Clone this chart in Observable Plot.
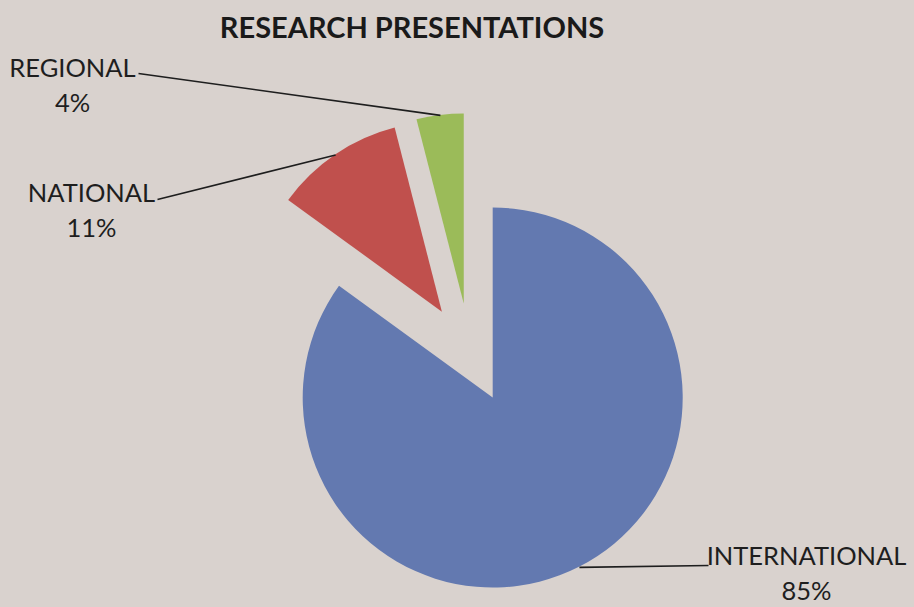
<!DOCTYPE html>
<html>
<head>
<meta charset="utf-8">
<script src="https://cdn.jsdelivr.net/npm/d3@7"></script>
<script src="https://cdn.jsdelivr.net/npm/@observablehq/plot@0.6"></script>
<style>
  html, body { margin: 0; padding: 0; background: #d9d2ce; }
  #chart { width: 914px; height: 607px; position: relative; overflow: hidden; background: #d9d2ce; }
  #title { height: 46px; font: 700 29px Lato, "Open Sans", sans-serif; line-height: 54px; text-align: center;
           padding-right: 90px; color: #1a1a1a; white-space: nowrap; overflow: visible; }
  #chart svg { display: block; }
</style>
</head>
<body>
<div id="chart"><div id="title">RESEARCH PRESENTATIONS</div></div>
<script>
// ---- data ----
const categories = ["INTERNATIONAL", "NATIONAL", "REGIONAL"];
const shares = [85, 11, 4];
const percentLabels = ["85%", "11%", "4%"];
const sliceColors = ["#6379b0", "#c0504d", "#9bbb59"];

// ---- layout (page pixels) ----
const W = 914, H = 607, TITLE_H = 46;
const CX = 470, CY = 353, R = 190, EXPLODE = 50;
const labelX = [806, 91, 72];
const labelY = [571, 208, 83];
const leaderX = [708, 157, 138];
const leaderY = [565, 199, 73];

const arcs = d3.pie().sort(null).startAngle(0).endAngle(2 * Math.PI)(shares);
const slices = arcs.map((a, i) => {
  const mid = (a.startAngle + a.endAngle) / 2;
  const cx = CX + EXPLODE * Math.sin(mid);
  const cy = CY - EXPLODE * Math.cos(mid);
  return {
    category: categories[i], value: shares[i], start: a.startAngle, end: a.endAngle, mid,
    cx, cy, color: sliceColors[i],
    ax: cx + R * Math.sin(mid), ay: cy - R * Math.cos(mid),
    lx: labelX[i], ly: labelY[i], sx: leaderX[i], sy: leaderY[i],
    label: categories[i] + "\n" + percentLabels[i]
  };
});

function pieSlices(index, scales) {
  const g = d3.create("svg:g");
  const rpx = Math.abs(scales.x(CX + R) - scales.x(CX));
  const arc = d3.arc().innerRadius(0).outerRadius(rpx);
  for (const s of slices) {
    g.append("path")
      .attr("transform", `translate(${scales.x(s.cx)},${scales.y(s.cy)})`)
      .attr("d", arc({startAngle: s.start, endAngle: s.end}))
      .attr("fill", s.color);
  }
  return g.node();
}

const plot = Plot.plot({
  width: W,
  height: H - TITLE_H,
  margin: 0,
  style: {background: "transparent"},
  x: {domain: [0, W], range: [0, W], axis: null},
  y: {domain: [TITLE_H, H], range: [0, H - TITLE_H], axis: null},
  marks: [
    pieSlices,
    Plot.link(slices, {x1: "sx", y1: "sy", x2: "ax", y2: "ay", stroke: "#1e1e1e", strokeWidth: 1.6}),
    Plot.text(slices, {x: "lx", y: "ly", text: "label", lineHeight: 1.36, fontSize: 25.5,
      fontFamily: "Lato, 'Open Sans', sans-serif", fill: "#1e1e1e", textAnchor: "middle"})
  ]
});
document.getElementById("chart").appendChild(plot);
</script>
</body>
</html>
